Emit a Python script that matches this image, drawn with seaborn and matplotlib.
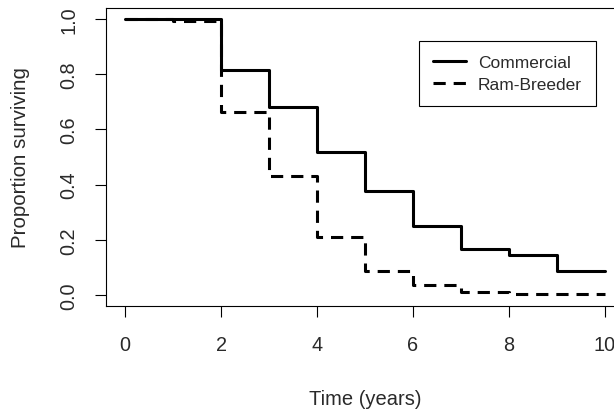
import numpy as np
import pandas as pd
import matplotlib
matplotlib.use('Agg')
import matplotlib.pyplot as plt
import seaborn as sns

# survival step values
com_time = [0, 2, 3, 4, 5, 6, 7, 8, 9, 10]
com_surv = [1.0, 0.815, 0.681, 0.518, 0.377, 0.25, 0.167, 0.145, 0.087, 0.087]
ram_time = [0, 1, 2, 3, 4, 5, 6, 7, 8, 10]
ram_surv = [1.0, 0.993, 0.663, 0.43, 0.21, 0.087, 0.036, 0.011, 0.003, 0.003]
groups = ['Commercial', 'Ram-Breeder']

df = pd.concat([
    pd.DataFrame({'time': com_time, 'surv': com_surv, 'group': groups[0]}),
    pd.DataFrame({'time': ram_time, 'surv': ram_surv, 'group': groups[1]}),
])

sns.set_style('ticks')
plt.rcParams['font.family'] = ['Liberation Sans', 'DejaVu Sans']
plt.rcParams['axes.linewidth'] = 0.8

fig = plt.figure(figsize=(6.14, 4.14), dpi=100)
ax = fig.add_axes([106 / 614, 107 / 414, 518 / 614, 298 / 414])

sns.lineplot(data=df, x='time', y='surv', style='group', style_order=groups,
             dashes={'Commercial': '', 'Ram-Breeder': (4, 2.6)},
             color='black', lw=2.2, drawstyle='steps-post',
             estimator=None, sort=False, ax=ax)

ax.set_xlim(-0.4, 10.4)
ax.set_ylim(-0.04, 1.04)
ax.set_xticks([0, 2, 4, 6, 8, 10])
ax.set_yticks([0.0, 0.2, 0.4, 0.6, 0.8, 1.0])
ax.set_yticklabels(['0.0', '0.2', '0.4', '0.6', '0.8', '1.0'], rotation=90, va='center')
ax.tick_params(axis='both', length=8, width=0.8, color='black', labelsize=14.3, labelcolor='#2a2a2a')
ax.tick_params(axis='x', pad=13)
ax.tick_params(axis='y', pad=12)
for s in ax.spines.values():
    s.set_visible(True)
    s.set_color('black')

ax.set_xlabel('Time (years)', fontsize=14.5, color='#2a2a2a', labelpad=25)
ax.set_ylabel('Proportion surviving', fontsize=14.8, color='#2a2a2a', labelpad=21)

leg = ax.legend(loc='upper left', bbox_to_anchor=(410 / 614, 1 - 33 / 414),
                bbox_transform=fig.transFigure, fontsize=12.5, frameon=True,
                fancybox=False, framealpha=1, edgecolor='black',
                handlelength=1.9, handletextpad=0.7, labelspacing=0.4, borderpad=0.8)
leg.get_frame().set_linewidth(0.8)
for t in leg.get_texts():
    t.set_color('#2a2a2a')

fig.savefig('out.png', dpi=100)
